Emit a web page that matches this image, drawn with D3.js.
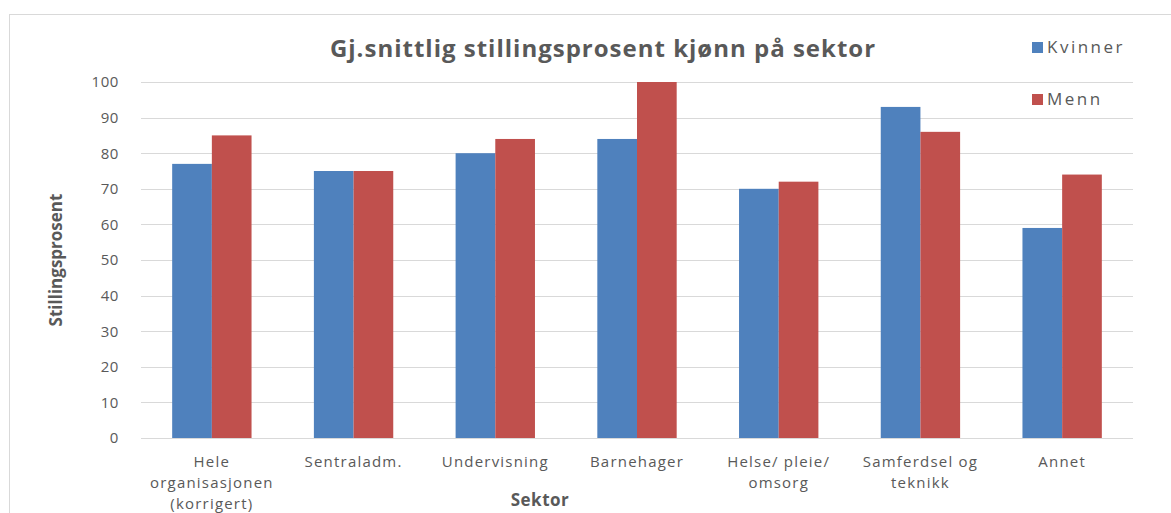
<!DOCTYPE html>
<html>
<head>
<meta charset="utf-8">
<script src="https://cdn.jsdelivr.net/npm/d3@7"></script>
<style>
    body { margin: 0; background: #fff; }
    text { font-family: "Open Sans", sans-serif; fill: #595959; }
</style>
</head>
<body>
<div id="graph"></div>
<script>
/*
    Data
*/
var sektorer = [
    ["Hele", "organisasjonen", "(korrigert)"],
    ["Sentraladm."],
    ["Undervisning"],
    ["Barnehager"],
    ["Helse/ pleie/", "omsorg"],
    ["Samferdsel og", "teknikk"],
    ["Annet"]
]
var kvinner = [77, 75, 80, 84, 70, 93, 59]
var menn = [85, 75, 84, 100, 72, 86, 74]
var serier = ["Kvinner", "Menn"]
var farger = ["#4F81BD", "#C0504D"]
var yTicks = [0, 10, 20, 30, 40, 50, 60, 70, 80, 90, 100]

/*
    Dimensions
*/
var W = 1171, H = 513
var margin = {top: 82, right: 38, bottom: 75, left: 141},
    width = W - margin.left - margin.right,
    height = H - margin.top - margin.bottom

var root = d3.select("#graph").append("svg")
    .attr("width", W)
    .attr("height", H)

// chart frame
root.append("rect")
    .attr("x", 9.5).attr("y", 14.5)
    .attr("width", 1300).attr("height", 700)
    .attr("fill", "none")
    .attr("stroke", "#d9d9d9")

var svg = root.append("g")
    .attr("transform", "translate(" + margin.left + "," + margin.top + ")")

var keys = sektorer.map(function (d) { return d.join(" ") })

var x = d3.scaleBand()
    .domain(keys)
    .range([0, width])
    .paddingInner(0.44)
    .paddingOuter(0.22)

var xSub = d3.scaleBand()
    .domain(serier)
    .range([0, x.bandwidth()])

var y = d3.scaleLinear()
    .domain([0, 100])
    .range([height, 0])

/*
    Grid
*/
svg.selectAll(".grid")
    .data(yTicks)
    .enter().append("line")
    .attr("class", "grid")
    .attr("x1", 0).attr("x2", width)
    .attr("y1", function (d) { return Math.round(y(d)) + 0.5 })
    .attr("y2", function (d) { return Math.round(y(d)) + 0.5 })
    .attr("stroke", "#d9d9d9")

/*
    Bars
*/
var rows = keys.map(function (k, i) {
    return {key: k, values: [kvinner[i], menn[i]]}
})

var groups = svg.selectAll(".group")
    .data(rows)
    .enter().append("g")
    .attr("transform", function (d) { return "translate(" + x(d.key) + ",0)" })

groups.selectAll("rect")
    .data(function (d) { return d.values.map(function (v, j) { return {s: serier[j], v: v, c: farger[j]} }) })
    .enter().append("rect")
    .attr("x", function (d) { return xSub(d.s) })
    .attr("y", function (d) { return y(d.v) })
    .attr("width", xSub.bandwidth())
    .attr("height", function (d) { return height - y(d.v) })
    .attr("fill", function (d) { return d.c })

/*
    Axes
*/
var yAxis = svg.append("g")
    .call(d3.axisLeft(y).tickValues(yTicks).tickSize(0).tickPadding(22))
yAxis.select(".domain").remove()
yAxis.selectAll("text")
    .style("font-size", "15px")
    .style("letter-spacing", "0.6px")
    .attr("fill", "#595959")

var xLabels = svg.append("g")
    .attr("transform", "translate(0," + height + ")")
xLabels.selectAll("text")
    .data(sektorer)
    .enter().append("text")
    .attr("x", function (d, i) { return x(keys[i]) + x.bandwidth() / 2 })
    .attr("y", 29)
    .attr("text-anchor", "middle")
    .style("font-size", "15px")
    .style("letter-spacing", "1.2px")
    .each(function (d) {
        var t = d3.select(this)
        d.forEach(function (line, j) {
            t.append("tspan")
                .attr("x", t.attr("x"))
                .attr("dy", j == 0 ? 0 : 21)
                .text(line)
        })
    })

/*
    Titles
*/
root.append("text")
    .attr("x", 603).attr("y", 57)
    .attr("text-anchor", "middle")
    .style("font-size", "24px")
    .style("letter-spacing", "1px")
    .style("font-weight", "bold")
    .text("Gj.snittlig stillingsprosent kjønn på sektor")

root.append("text")
    .attr("transform", "translate(62," + 260 + ") rotate(-90)")
    .attr("text-anchor", "middle")
    .style("font-size", "17px")
    .style("font-weight", "bold")
    .text("Stillingsprosent")

root.append("text")
    .attr("x", 540).attr("y", 506)
    .attr("text-anchor", "middle")
    .style("font-size", "17px")
    .style("letter-spacing", "0.5px")
    .style("font-weight", "bold")
    .text("Sektor")

/*
    Legend
*/
var legend = root.selectAll(".legend")
    .data(serier)
    .enter().append("g")
    .attr("transform", function (d, i) { return "translate(1032," + (42 + i * 52) + ")" })

legend.append("rect")
    .attr("width", 11).attr("height", 11)
    .attr("fill", function (d, i) { return farger[i] })

legend.append("text")
    .attr("x", 15).attr("y", 11)
    .style("font-size", "17px")
    .style("letter-spacing", "2.5px")
    .text(function (d) { return d })
</script>
</body>
</html>
